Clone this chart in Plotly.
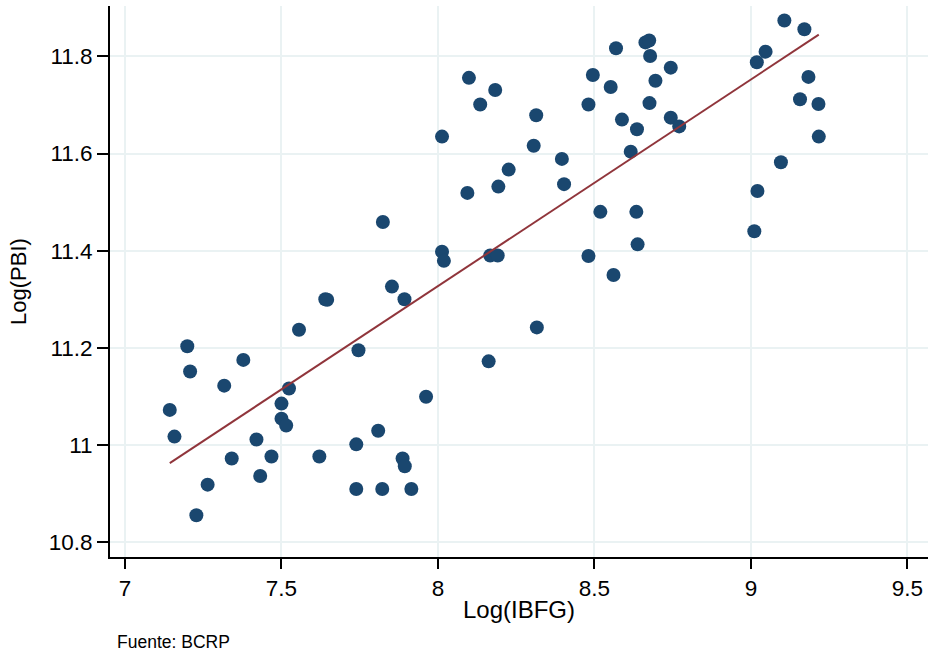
import plotly.graph_objects as go
import numpy as np

log_ibfg = [8.099, 8.183, 8.135, 8.013, 8.226, 8.193, 8.094, 7.824, 8.013, 8.019,
            8.167, 8.191, 7.853, 7.893, 7.640, 7.646, 9.107, 9.171, 9.047, 9.019,
            9.184, 9.157, 9.216, 9.217, 9.096, 9.021, 9.011, 8.569, 8.663, 8.675,
            8.678, 8.744, 8.695, 8.495, 8.552, 8.481, 8.676, 8.314, 8.588, 8.744,
            8.771, 8.636, 8.306, 8.616, 8.396, 8.403, 8.519, 8.634, 8.638, 8.481,
            8.561, 8.316, 7.556, 7.199, 7.746, 8.162, 7.378, 7.208, 7.317, 7.524,
            7.962, 7.500, 7.143, 7.500, 7.515, 7.809, 7.158, 7.420, 7.739, 7.341,
            7.468, 7.621, 7.887, 7.894, 7.432, 7.264, 7.739, 7.822, 7.915, 7.228]
log_pbi = [11.756, 11.731, 11.701, 11.635, 11.567, 11.532, 11.519, 11.459, 11.398, 11.379,
           11.390, 11.390, 11.326, 11.300, 11.300, 11.299, 11.874, 11.856, 11.810, 11.788,
           11.758, 11.712, 11.702, 11.635, 11.582, 11.523, 11.440, 11.817, 11.829, 11.833,
           11.801, 11.777, 11.750, 11.762, 11.737, 11.701, 11.704, 11.679, 11.670, 11.674,
           11.656, 11.650, 11.616, 11.604, 11.589, 11.537, 11.480, 11.480, 11.413, 11.389,
           11.350, 11.242, 11.237, 11.203, 11.195, 11.172, 11.175, 11.151, 11.122, 11.116,
           11.099, 11.085, 11.072, 11.054, 11.040, 11.029, 11.017, 11.011, 11.001, 10.972,
           10.976, 10.976, 10.972, 10.956, 10.936, 10.918, 10.909, 10.909, 10.909, 10.855]

fit_intercept = 7.9222
fit_slope = 0.4256

x_ticks = [7, 7.5, 8, 8.5, 9, 9.5]
x_tick_labels = ["7", "7.5", "8", "8.5", "9", "9.5"]
y_ticks = [10.8, 11.0, 11.2, 11.4, 11.6, 11.8]
y_tick_labels = ["10.8", "11", "11.2", "11.4", "11.6", "11.8"]

fx = np.array([min(log_ibfg), max(log_ibfg)])
fy = fit_intercept + fit_slope * fx

fig = go.Figure()
fig.add_trace(go.Scatter(
    x=log_ibfg, y=log_pbi, mode="markers",
    marker=dict(size=14, color="#1a476f", line=dict(width=0)),
    showlegend=False, hoverinfo="skip"))
fig.add_trace(go.Scatter(
    x=fx, y=fy, mode="lines",
    line=dict(color="#90353b", width=2),
    showlegend=False, hoverinfo="skip"))

font_family = "Liberation Sans, Arial, sans-serif"
fig.update_layout(
    width=928, height=655,
    margin=dict(l=110, r=0, t=6, b=98),
    paper_bgcolor="white", plot_bgcolor="white",
    font=dict(family=font_family, color="black"),
    xaxis=dict(
        range=[6.952, 9.566], tickvals=x_ticks, ticktext=x_tick_labels,
        ticks="outside", ticklen=10, tickwidth=1.5, tickcolor="black",
        tickfont=dict(size=22.5, family=font_family),
        showline=True, linecolor="black", linewidth=2,
        showgrid=True, gridcolor="#eaf2f3", gridwidth=2, zeroline=False,
        title=dict(text="Log(IBFG)", font=dict(size=24, family=font_family), standoff=1),
    ),
    yaxis=dict(
        range=[10.769, 11.904], tickvals=y_ticks, ticktext=y_tick_labels,
        ticks="outside", ticklen=11, tickwidth=1.5, tickcolor="black",
        tickfont=dict(size=22.5, family=font_family),
        showline=True, linecolor="black", linewidth=2,
        showgrid=True, gridcolor="#eaf2f3", gridwidth=2, zeroline=False,
        title=dict(text="Log(PBI)", font=dict(size=22, family=font_family), standoff=16),
    ),
    annotations=[dict(
        text="Fuente: BCRP", xref="paper", yref="paper",
        x=(115 - 110) / 818, y=-(642 - 557) / 551,
        xanchor="left", yanchor="middle", showarrow=False,
        font=dict(size=17.5, family=font_family, color="black"))],
)

fig.write_html("out.html")
